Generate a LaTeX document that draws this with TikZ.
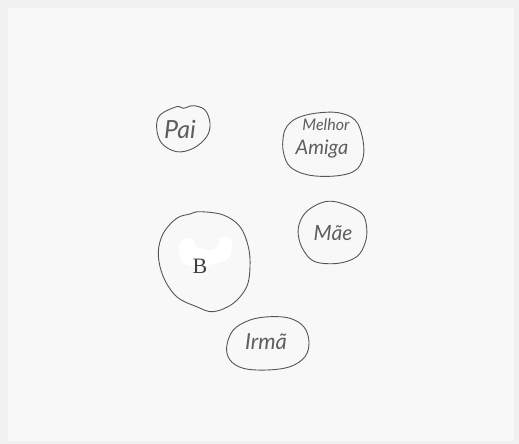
\documentclass[tikz,border=0pt]{standalone}
\usepackage{fontspec}
\newfontfamily\hand{Lato}
\newfontfamily\printed{Liberation Serif}
\definecolor{paper}{HTML}{F8F8F8}
\definecolor{paperedge}{HTML}{F1F1F1}
\definecolor{pen}{HTML}{555555}
\definecolor{ink}{HTML}{5E5E5E}
\begin{document}
\begin{tikzpicture}[x=1pt,y=-1pt,
  blob/.style={draw=pen,line width=0.9pt,smooth cycle,tension=0.6},
  word/.style={text=ink,inner sep=0pt,font=\hand\itshape}]
\useasboundingbox (0,0) rectangle (519,444);
\fill[paperedge] (0,0) rectangle (519,444);
\fill[paper] (8,8) rectangle (514,441);
% Pai
\draw[blob] plot coordinates {(156.7,128.3) (160,115) (176.7,106.7) (183.3,108.3) (193.3,105.7) (205,110) (210,123.3) (206.7,136.7) (193.3,148.3) (176.7,151.7) (161.7,143.3)};
\node[word,font=\hand\itshape\fontsize{25}{25}\selectfont] (pai) at (180,129) {Pai};
% Melhor Amiga
\draw[blob] plot coordinates {(283.3,136.7) (283.3,151.7) (290,166.7) (308.3,175) (335,176) (355,170.7) (363.3,156.7) (362.3,136.7) (355,120) (338.3,112.7) (315,113.3) (296.7,118.3) (286.7,126.7)};
\node[word,font=\hand\itshape\fontsize{16}{16}\selectfont] (melhor) at (326,125) {Melhor};
\node[word,font=\hand\itshape\fontsize{20}{20}\selectfont] (amiga) at (322,149) {Amiga};
% B
\draw[blob] plot coordinates {(190,214) (200,211.7) (223.3,215) (240,226.7) (248.3,246.7) (250,266.7) (246.7,286.7) (233.3,303.3) (213.3,311.7) (196.7,306.7) (176.7,296.7) (163.3,276.7) (158.3,253.3) (163.3,233.3) (176.7,218.3)};
\fill[white] plot[smooth cycle] coordinates {(179,252) (181,241) (192,238) (196,246) (210,250) (218,246) (220,237) (231,239) (231,254) (225,261) (214,264) (204,266) (192,266) (183,263)};
\node[text=black!75,inner sep=0pt,font=\printed\fontsize{22}{22}\selectfont] (b) at (200,266) {B};
% Mae
\draw[blob] plot coordinates {(300,221.7) (308.3,210) (325,201.7) (341.7,203.3) (361.7,213.3) (366.7,228.3) (365,243.3) (356.7,256.7) (338.3,263.3) (315,261.7) (303.3,250) (298.3,235)};
\node[word,font=\hand\itshape\fontsize{21}{21}\selectfont] (mae) at (333,233) {Mãe};
% Irma
\draw[blob] plot coordinates {(226.7,346.7) (233.3,330) (250,320) (270,316.7) (290,318.3) (304,327) (309,342) (305,356.7) (290,366.7) (266.7,370) (243.3,368.3) (230,360)};
\node[word,font=\hand\itshape\fontsize{22}{22}\selectfont] (irma) at (266,342) {Irmã};
\end{tikzpicture}
\end{document}
